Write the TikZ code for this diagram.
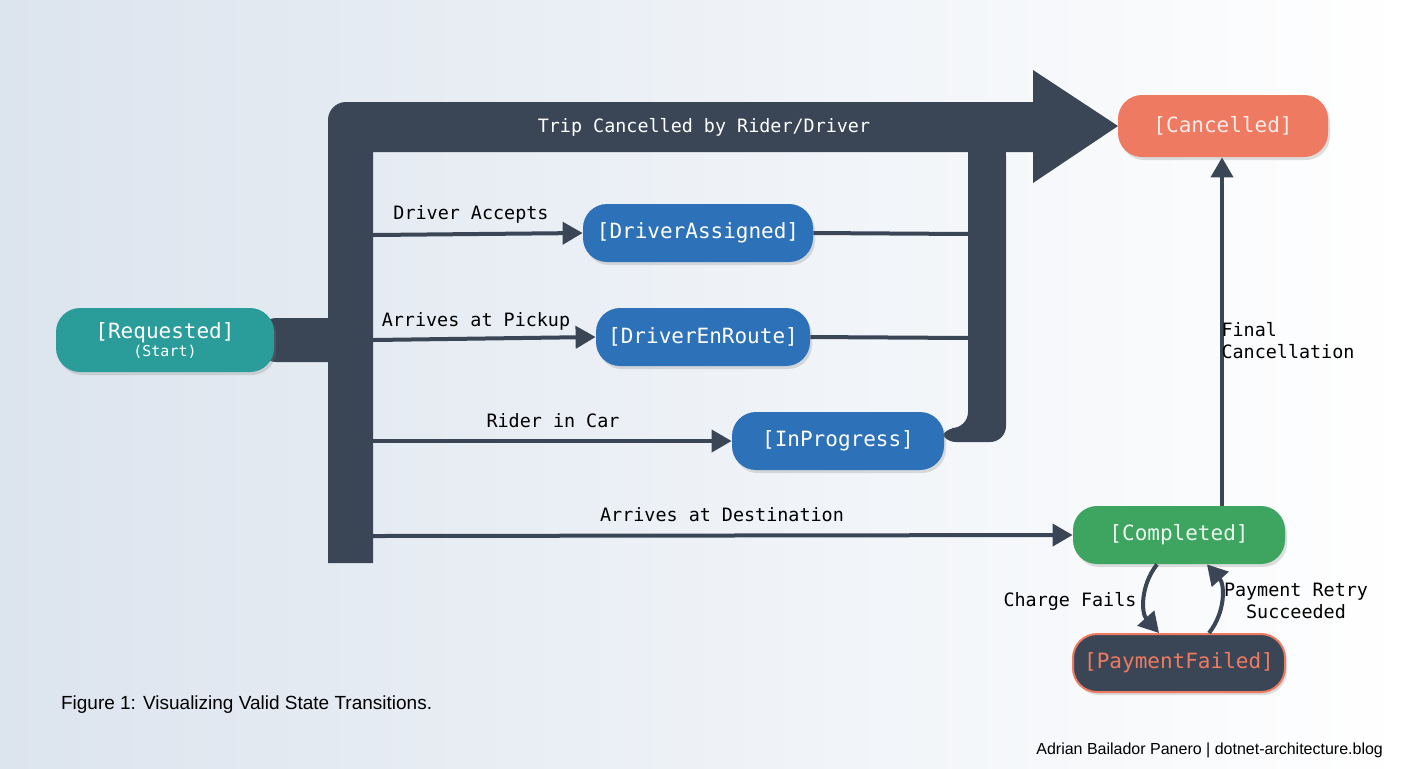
\documentclass[tikz,border=0pt]{standalone}
\usepackage{fontspec}
\setmainfont{Liberation Sans}
\setmonofont{DejaVu Sans Mono}
\usetikzlibrary{arrows.meta,shadows}
\definecolor{bar}{HTML}{3A4656}
\definecolor{teal}{HTML}{2A9D9A}
\definecolor{blu}{HTML}{2D72B8}
\definecolor{salm}{HTML}{EE7A62}
\definecolor{grn}{HTML}{3DA560}
\definecolor{bgl}{HTML}{DCE4EE}
\begin{document}
\begin{tikzpicture}[x=0.5pt,y=-0.5pt,
 st/.style={rounded corners=12pt,minimum height=29pt,text=white,font=\ttfamily\fontsize{10.5}{12}\selectfont,drop shadow={opacity=0.25,shadow xshift=1pt,shadow yshift=-1.5pt}},
 lab/.style={font=\ttfamily\fontsize{9.2}{11}\selectfont,text=black},
 thin/.style={draw=bar,line width=2pt},
 arr/.style={thin,-{Triangle[length=10pt,width=11pt]}}]
\shade[left color=bgl,right color=white] (0,0) rectangle (1408,768);
\useasboundingbox (0,0) rectangle (1408,768);
% thick bars
\fill[bar] (328,563) -- (328,120) arc[start angle=180,end angle=90,radius=9pt] -- (1040,102) -- (1040,152) -- (373,152) -- (373,563) -- cycle;
\fill[bar] (1033,70) -- (1118,126) -- (1033,183) -- cycle;
\fill[bar,rounded corners=8pt] (968,140) -- (1006,140) -- (1006,442) -- (940,442) -- (940,428) -- (968,428) -- cycle;
\fill[bar] (968,140) rectangle (1006,160);
\fill[bar,rounded corners=8pt] (260,318) rectangle (360,362);
\node[font=\ttfamily\fontsize{9.2}{11}\selectfont,text=white] (tc) at (704,127) {Trip Cancelled by Rider/Driver};
% nodes
\node[st,fill=teal,minimum width=109pt,minimum height=32pt,align=center] (req) at (165,340) {[Requested]\\[-3pt]{\fontsize{7.5}{8}\selectfont(Start)}};
\node[st,fill=blu,minimum width=115pt] (da) at (698,233) {[DriverAssigned]};
\node[st,fill=blu,minimum width=107pt] (de) at (703,337) {[DriverEnRoute]};
\node[st,fill=blu,minimum width=106pt] (ip) at (838,441) {[InProgress]};
\node[st,fill=salm,minimum width=105pt,minimum height=31pt,text=white!85!salm] (ca) at (1223,126) {[Cancelled]};
\node[st,fill=grn,minimum width=106pt,text=white!90!grn] (co) at (1179,535) {[Completed]};
\node[st,fill=bar,draw=salm,line width=1pt,minimum width=106pt,text=salm] (pf) at (1179,663) {[PaymentFailed]};
% connectors
\coordinate (b1) at (373,235); \coordinate (b2) at (373,340); \coordinate (b3) at (373,441); \coordinate (b4) at (373,536);
\coordinate (r1) at (970,234); \coordinate (r2) at (970,338);
\draw[arr] (b1) -- (da.west);
\draw[arr] (b2) -- (de.west);
\draw[arr] (b3) -- (ip.west);
\draw[arr] (b4) -- (co.west);
\draw[thin] (da.east) -- (r1);
\draw[thin] (de.east) -- (r2);
\node[lab] at (471,214) {Driver Accepts};
\node[lab] at (476,321) {Arrives at Pickup};
\node[lab] at (553,421) {Rider in Car};
\node[lab] at (722,515) {Arrives at Destination};
\draw[arr] (co.north -| 1222,0) -- (ca.south -| 1222,0);
\node[lab,align=left] at (1288,341) {Final\\Cancellation};
\draw[arr] ([xshift=-11pt]co.south) to[bend right=40] ([xshift=-10pt]pf.north);
\draw[arr] ([xshift=15pt]pf.north) to[bend right=40] ([xshift=14pt]co.south);
\node[lab] at (1070,601) {Charge Fails};
\node[lab,align=center] at (1296,601) {Payment Retry\\Succeeded};
\node[anchor=west,font=\fontsize{9.5}{11}\selectfont] (cap) at (54,705) {Figure 1: Visualizing Valid State Transitions.};
\node[anchor=east,font=\fontsize{8}{10}\selectfont] (ft) at (1390,750) {Adrian Bailador Panero | dotnet-architecture.blog};
\end{tikzpicture}
\end{document}
